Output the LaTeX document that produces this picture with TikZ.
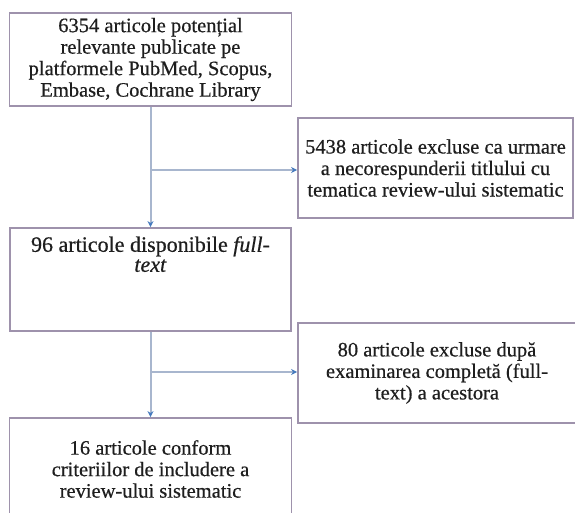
\documentclass[tikz,border=0pt]{standalone}
\usepackage{fontspec}
\setmainfont{Liberation Serif}[FakeBold=0.5]
\usetikzlibrary{arrows.meta}
\definecolor{boxline}{RGB}{158,146,172}
\definecolor{connline}{RGB}{168,182,206}
\definecolor{tipblue}{RGB}{70,122,190}
\definecolor{txt}{RGB}{30,30,30}
\tikzset{
  box/.style={draw=boxline, line width=1.8pt, rectangle, align=center, text=txt,
    font=\fontsize{20.5}{21.5}\selectfont, inner sep=0pt},
  conn/.style={draw=connline, line width=2pt,
    -{Stealth[length=6pt,width=6pt,color=tipblue]}},
}
\begin{document}
\begin{tikzpicture}[x=1pt,y=-1pt]
\useasboundingbox (0,0) rectangle (575,513);
\clip (0,0) rectangle (575,513);
\fill[white] (0,0) rectangle (575,513);
\node[box, minimum width=282pt, minimum height=93pt] (b1) at (150.5,59.5)
  {6354 articole potențial\\relevante publicate pe\\platformele PubMed, Scopus,\\Embase, Cochrane Library};
\node[box, minimum width=275pt, minimum height=100pt] (bA) at (435.5,168)
  {5438 articole excluse ca urmare\\a necorespunderii titlului cu\\tematica review-ului sistematic};
\node[box, minimum width=281pt, minimum height=103pt] (b2) at (150.5,279.5) {};
\node[align=center, text=txt, font=\fontsize{22}{20}\selectfont, anchor=north, inner sep=0pt]
  (b2t) at ([yshift=-9pt]b2.north) {96 articole disponibile \textit{full-}\\\textit{text}};
\node[box, minimum width=278pt, minimum height=100pt] (bB) at (437,373)
  {80 articole excluse după\\examinarea completă (full-\\text) a acestora};
\node[box, minimum width=282pt, minimum height=102pt] (b3) at (150.5,469)
  {16 articole conform\\criteriilor de includere a\\review-ului sistematic};
\coordinate (j1) at (150.5,170);
\coordinate (j2) at (150.5,372);
\draw[conn] (b1.south) -- (b2.north);
\draw[conn] (b2.south) -- (b3.north);
\draw[conn] (j1) -- (j1 -| bA.west);
\draw[conn] (j2) -- (j2 -| bB.west);
\end{tikzpicture}
\end{document}
